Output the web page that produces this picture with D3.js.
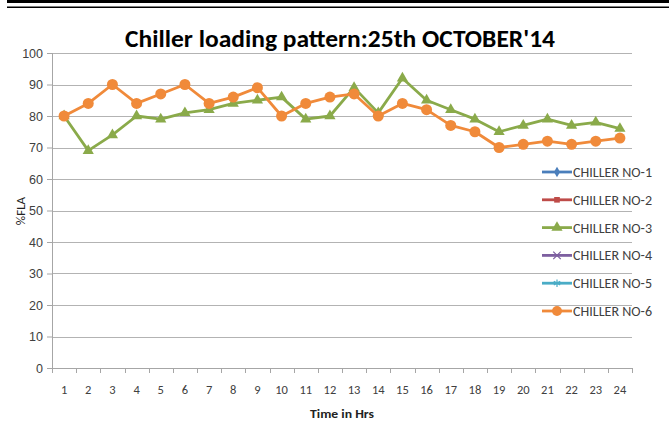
<!DOCTYPE html>
<html>
<head>
<meta charset="utf-8">
<script src="https://cdn.jsdelivr.net/npm/d3@7"></script>
<style>
  body { margin: 0; background: #fff; }
  svg { display: block; font-family: Calibri, Carlito, "Liberation Sans", Arial, sans-serif; }
</style>
</head>
<body>
<svg id="chart" width="669" height="424"></svg>
<script>
// hours on the x axis
const hours = d3.range(1, 25).map(String);
const yTicks = [0, 10, 20, 30, 40, 50, 60, 70, 80, 90, 100];

// series (chillers 1, 2, 4, 5 have no plotted values)
const chiller1 = [];
const chiller2 = [];
const chiller3 = [80, 69, 74, 80, 79, 81, 82, 84, 85, 86, 79, 80, 89, 81, 92, 85, 82, 79, 75, 77, 79, 77, 78, 76];
const chiller4 = [];
const chiller5 = [];
const chiller6 = [80, 84, 90, 84, 87, 90, 84, 86, 89, 80, 84, 86, 87, 80, 84, 82, 77, 75, 70, 71, 72, 71, 72, 73];

const seriesNames = ['CHILLER NO-1', 'CHILLER NO-2', 'CHILLER NO-3', 'CHILLER NO-4', 'CHILLER NO-5', 'CHILLER NO-6'];
const seriesValues = [chiller1, chiller2, chiller3, chiller4, chiller5, chiller6];
const colors = ['#4a7ebb', '#be4b48', '#8aaa4a', '#7d5fa0', '#4aacc6', '#f08a3a'];
const markers = ['diamond', 'square', 'triangle', 'x', 'star', 'circle'];

const svg = d3.select('#chart');

// double rule at the top of the page
svg.append('rect').attr('x', 7).attr('y', 0).attr('width', 662).attr('height', 3).attr('fill', '#000');
svg.append('rect').attr('x', 7).attr('y', 6.5).attr('width', 662).attr('height', 1.5).attr('fill', '#000');

const plotLeft = 52, plotRight = 632, plotTop = 53, plotBottom = 368;

const x = d3.scaleBand().domain(hours).range([plotLeft, plotRight]);
const y = d3.scaleLinear().domain([0, 100]).range([plotBottom, plotTop]);

// gridlines
svg.append('g')
  .selectAll('line')
  .data(yTicks.filter(d => d > 0))
  .join('line')
  .attr('x1', plotLeft).attr('x2', plotRight)
  .attr('y1', d => Math.round(y(d)) + 0.5).attr('y2', d => Math.round(y(d)) + 0.5)
  .attr('stroke', '#b3b3b3').attr('stroke-width', 1);

// y axis
const yAxis = svg.append('g')
  .attr('transform', `translate(${plotLeft},0)`)
  .call(d3.axisLeft(y).tickValues(yTicks).tickSize(5).tickPadding(4));
yAxis.select('.domain').attr('stroke', '#a6a6a6').attr('d', `M0.5,${plotTop}V${plotBottom}`);
yAxis.selectAll('.tick line').attr('stroke', '#a6a6a6');
yAxis.selectAll('.tick text').attr('font-size', 12.5).attr('fill', '#404040');

// x axis, ticks between categories
const xAxis = svg.append('g').attr('transform', `translate(0,${plotBottom})`);
xAxis.append('line').attr('x1', plotLeft).attr('x2', plotRight).attr('y1', 0.5).attr('y2', 0.5).attr('stroke', '#a6a6a6');
xAxis.selectAll('.tk')
  .data(hours.concat(['end']))
  .join('line')
  .attr('class', 'tk')
  .attr('x1', (d, i) => Math.round(plotLeft + i * x.step()) + 0.5)
  .attr('x2', (d, i) => Math.round(plotLeft + i * x.step()) + 0.5)
  .attr('y1', 0).attr('y2', 5)
  .attr('stroke', '#a6a6a6');
xAxis.selectAll('.lbl')
  .data(hours)
  .join('text')
  .attr('class', 'lbl')
  .attr('x', d => x(d) + x.bandwidth() / 2)
  .attr('y', 26)
  .attr('text-anchor', 'middle')
  .attr('font-size', 12.5)
  .attr('fill', '#404040')
  .text(d => d);

// titles
svg.append('text')
  .attr('x', 340).attr('y', 47)
  .attr('text-anchor', 'middle')
  .attr('font-size', 24).attr('font-weight', 'bold')
  .attr('fill', '#000')
  .attr('textLength', 430).attr('lengthAdjust', 'spacingAndGlyphs')
  .text("Chiller loading pattern:25th OCTOBER'14");

svg.append('text')
  .attr('x', 342).attr('y', 418)
  .attr('text-anchor', 'middle')
  .attr('font-size', 12.5).attr('font-weight', 'bold')
  .attr('fill', '#222')
  .attr('textLength', 64).attr('lengthAdjust', 'spacingAndGlyphs')
  .text('Time in Hrs');

svg.append('text')
  .attr('transform', 'translate(25,211) rotate(-90)')
  .attr('text-anchor', 'middle')
  .attr('font-size', 13)
  .attr('fill', '#222')
  .text('%FLA');

// marker shapes
function drawMarker(g, type, color, s) {
  if (type === 'circle') {
    g.append('circle').attr('r', s / 2).attr('fill', color);
  } else if (type === 'triangle') {
    g.append('path').attr('d', d3.symbol(d3.symbolTriangle, s * s * 0.45)()).attr('fill', color);
  } else if (type === 'diamond') {
    g.append('path').attr('d', d3.symbol(d3.symbolDiamond, s * s * 0.5)()).attr('fill', color);
  } else if (type === 'square') {
    g.append('path').attr('d', d3.symbol(d3.symbolSquare, s * s * 0.5)()).attr('fill', color);
  } else if (type === 'x') {
    g.append('path').attr('d', d3.symbol(d3.symbolX, s * s * 0.6)()).attr('fill', 'none').attr('stroke', color).attr('stroke-width', 1.2);
  } else if (type === 'star') {
    g.append('path').attr('d', d3.symbol(d3.symbolAsterisk, s * s * 0.6)()).attr('fill', 'none').attr('stroke', color).attr('stroke-width', 1.2);
  }
}

const line = d3.line()
  .x((d, i) => x(hours[i]) + x.bandwidth() / 2)
  .y(d => y(d));

// draw series in order so chiller 6 ends up on top
seriesValues.forEach((vals, si) => {
  if (!vals.length) return;
  const g = svg.append('g');
  g.append('path')
    .attr('d', line(vals))
    .attr('fill', 'none')
    .attr('stroke', colors[si])
    .attr('stroke-width', 2.8)
    .attr('stroke-linejoin', 'round');
  vals.forEach((v, i) => {
    const m = g.append('g').attr('transform', `translate(${x(hours[i]) + x.bandwidth() / 2},${y(v)})`);
    drawMarker(m, markers[si], colors[si], 11);
  });
});

// legend
const legend = svg.append('g');
seriesNames.forEach((name, i) => {
  const ly = 172 + i * 27.8;
  const lg = legend.append('g').attr('transform', `translate(0,${ly})`);
  lg.append('line').attr('x1', 542).attr('x2', 572).attr('y1', 0).attr('y2', 0)
    .attr('stroke', colors[i]).attr('stroke-width', 2.8);
  const m = lg.append('g').attr('transform', 'translate(557,0)');
  drawMarker(m, markers[i], colors[i], i === 5 ? 10 : (i === 2 ? 11 : 8));
  lg.append('text')
    .attr('x', 573).attr('y', 5)
    .attr('font-size', 13.5)
    .attr('fill', '#404040')
    .attr('textLength', 79).attr('lengthAdjust', 'spacingAndGlyphs')
    .text(name);
});
</script>
</body>
</html>
